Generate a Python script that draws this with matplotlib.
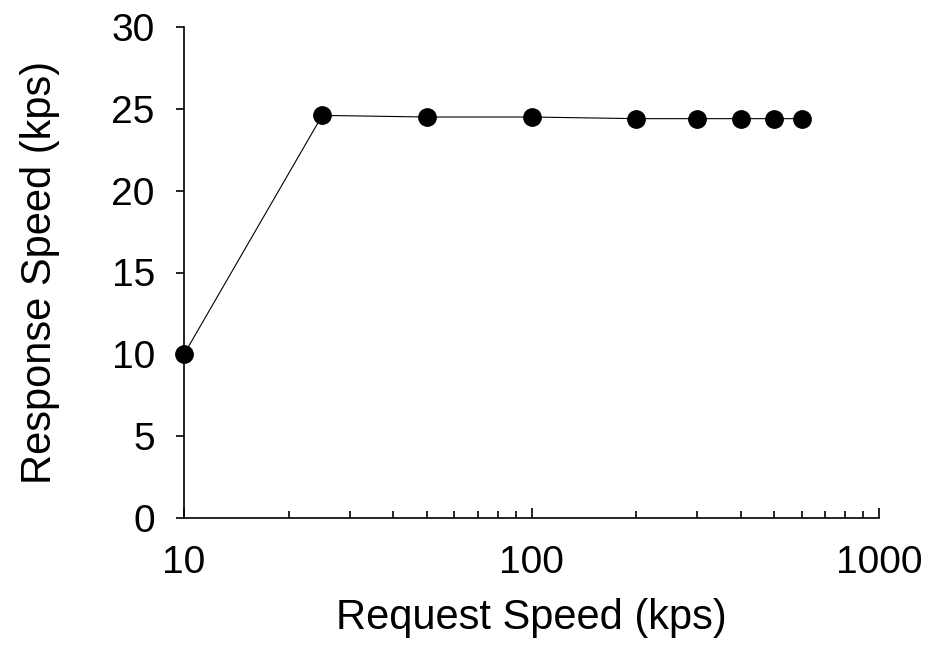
import matplotlib
matplotlib.use("Agg")
from matplotlib import pyplot as plt
from matplotlib.ticker import FixedLocator, NullFormatter, LogLocator

request_kps = [10, 25, 50, 100, 200, 300, 400, 500, 600]
response_kps = [10.0, 24.6, 24.5, 24.5, 24.4, 24.4, 24.4, 24.4, 24.4]

plt.rcParams['font.family'] = ['Liberation Sans', 'DejaVu Sans']

fig = plt.figure(figsize=(9.35, 6.47), dpi=100)
ax = fig.add_axes([184/935, 1-518/647, (879-184)/935, (518-27)/647])

ax.plot(request_kps, response_kps, color='black', lw=0.8, marker='o',
        markersize=12.5, clip_on=False, zorder=3)

ax.set_xscale('log')
ax.set_xlim(10, 1000)
ax.set_ylim(0, 30)
ax.set_yticks([0, 5, 10, 15, 20, 25, 30])
ax.xaxis.set_major_locator(FixedLocator([10, 100, 1000]))
ax.xaxis.set_minor_locator(LogLocator(base=10, subs=range(2, 10)))
ax.xaxis.set_minor_formatter(NullFormatter())
ax.set_xticklabels(['10', '100', '1000'])

for s in ['top', 'right']:
    ax.spines[s].set_visible(False)
for s in ['left', 'bottom']:
    ax.spines[s].set_linewidth(1.2)

ax.tick_params(axis='x', which='major', direction='in', length=7, width=1.2,
               labelsize=28, pad=19.5)
ax.tick_params(axis='x', which='minor', direction='in', length=5, width=1.2)
ax.tick_params(axis='y', which='major', direction='out', length=6, width=1.2,
               labelsize=28, pad=15)

ax.set_xlabel('Request Speed (kps)', fontsize=30, labelpad=12)
ax.set_ylabel('Response Speed (kps)', fontsize=30, labelpad=37)

fig.savefig('out.png', dpi=100)
